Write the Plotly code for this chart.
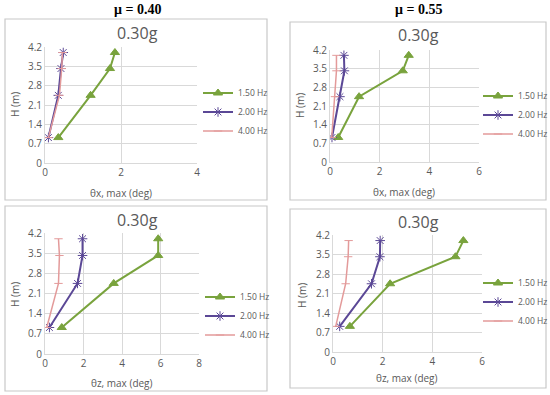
import plotly.graph_objects as go

W, H_PX = 550, 395

heights = [0.92, 2.45, 3.42, 4.0]
freq_labels = ["1.50 Hz", "2.00 Hz", "4.00 Hz"]

# panel 1: mu=0.40, theta_x
p1_150 = [0.35, 1.20, 1.71, 1.84]
p1_200 = [0.09, 0.35, 0.42, 0.48]
p1_400 = [0.09, 0.38, 0.44, 0.46]
# panel 2: mu=0.55, theta_x
p2_150 = [0.33, 1.17, 2.93, 3.17]
p2_200 = [0.08, 0.40, 0.58, 0.56]
p2_400 = [0.07, 0.20, 0.26, 0.26]
# panel 3: mu=0.40, theta_z
p3_150 = [0.87, 3.57, 5.88, 5.88]
p3_200 = [0.23, 1.69, 1.95, 1.95]
p3_400 = [0.09, 0.70, 0.75, 0.70]
# panel 4: mu=0.55, theta_z
p4_150 = [0.68, 2.30, 4.93, 5.25]
p4_200 = [0.27, 1.55, 1.89, 1.90]
p4_400 = [0.11, 0.51, 0.61, 0.63]

x_titles = ["θx, max (deg)", "θx, max (deg)", "θz, max (deg)", "θz, max (deg)"]
x_max = [4, 6, 8, 6]
col_titles = ["μ = 0.40", "μ = 0.55"]
panel_title = "0.30g"
y_ticks = [0, 0.7, 1.4, 2.1, 2.8, 3.5, 4.2]

panels = [
    [p1_150, p1_200, p1_400],
    [p2_150, p2_200, p2_400],
    [p3_150, p3_200, p3_400],
    [p4_150, p4_200, p4_400],
]

# layout geometry (pixels)
plot_px = [  # x0, x1, ytop, ybottom
    (45, 197, 47, 163),
    (330, 479, 50, 162),
    (45, 199, 233, 354),
    (333, 482, 235, 352),
]
box_px = [(5, 19, 267, 200), (290, 22, 546, 200), (5, 206, 267, 391), (290, 209, 546, 388)]
legend_px = [(198, 112), (478, 115), (200, 316), (478, 302)]
title_px = [(137, 33), (418, 35), (137, 220), (418, 222)]
xtitle_px = [(121, 193), (404, 192), (122, 383), (407, 378)]
ytitle_px = [(15, 105), (300, 106), (15, 295), (302, 296)]

colors = ["#79a33d", "#5b4896", "#e39a9a"]
widths = [2, 2, 1.5]
symbols = ["triangle-up", "asterisk-open", "line-ew-open"]
msizes = [8, 8, 6]

gray = "#595959"
grid = "#d9d9d9"
font_fam = "Open Sans"

fig = go.Figure()
shapes = []
annotations = []

def fx(px):
    return px / W

def fy(py):
    return 1 - py / H_PX

for i, series in enumerate(panels):
    xa = "x" if i == 0 else f"x{i+1}"
    ya = "y" if i == 0 else f"y{i+1}"
    lg = "legend" if i == 0 else f"legend{i+1}"
    for j, vals in enumerate(series):
        fig.add_trace(go.Scatter(
            x=vals, y=heights, name=freq_labels[j], mode="lines+markers",
            line=dict(color=colors[j], width=widths[j]),
            marker=dict(symbol=symbols[j], size=msizes[j], color=colors[j],
                        line=dict(color=colors[j], width=1)),
            xaxis=xa, yaxis=ya, legend=lg,
        ))
    x0, x1, yt, yb = plot_px[i]
    axkey = "xaxis" if i == 0 else f"xaxis{i+1}"
    aykey = "yaxis" if i == 0 else f"yaxis{i+1}"
    fig.update_layout(**{
        axkey: dict(domain=[fx(x0), fx(x1)], range=[0, x_max[i]], dtick=2,
                    showgrid=True, gridcolor=grid, gridwidth=1, zeroline=False,
                    showline=True, linecolor=grid, mirror=False,
                    tickfont=dict(size=10, color=gray, family=font_fam),
                    anchor=ya, ticks="", fixedrange=True, automargin=False),
        aykey: dict(domain=[fy(yb), fy(yt)], range=[0, 4.2], tickvals=y_ticks,
                    ticktext=[("%g" % v) for v in y_ticks],
                    showgrid=True, gridcolor=grid, gridwidth=1, zeroline=False,
                    showline=True, linecolor=grid,
                    tickfont=dict(size=10, color=gray, family=font_fam),
                    anchor=xa, ticks="", fixedrange=True, automargin=False),
        lg: dict(x=fx(legend_px[i][0]), y=fy(legend_px[i][1]), xanchor="left", yanchor="middle",
                 xref="container", yref="container",
                 font=dict(size=8.5, color=gray, family=font_fam),
                 bgcolor="rgba(0,0,0,0)", tracegroupgap=0, itemwidth=30),
    })
    bx0, by0, bx1, by1 = box_px[i]
    shapes.append(dict(type="rect", xref="paper", yref="paper",
                       x0=fx(bx0), x1=fx(bx1), y0=fy(by1), y1=fy(by0),
                       line=dict(color="#c8c8c8", width=1.2), layer="below"))
    annotations.append(dict(text=panel_title, x=fx(title_px[i][0]), y=fy(title_px[i][1]),
                            xref="paper", yref="paper", showarrow=False,
                            xanchor="center", yanchor="middle",
                            font=dict(size=16, color=gray, family=font_fam)))
    annotations.append(dict(text=x_titles[i], x=fx(xtitle_px[i][0]), y=fy(xtitle_px[i][1]),
                            xref="paper", yref="paper", showarrow=False,
                            xanchor="center", yanchor="middle",
                            font=dict(size=10, color=gray, family=font_fam)))
    annotations.append(dict(text="H (m)", x=fx(ytitle_px[i][0]), y=fy(ytitle_px[i][1]),
                            xref="paper", yref="paper", showarrow=False, textangle=-90,
                            xanchor="center", yanchor="middle",
                            font=dict(size=10, color=gray, family=font_fam)))

for k, t in enumerate(col_titles):
    annotations.append(dict(text="<b>%s</b>" % t, x=fx([137, 418][k]), y=fy(9),
                            xref="paper", yref="paper", showarrow=False,
                            xanchor="center", yanchor="middle",
                            font=dict(size=14, color="black", family="Liberation Serif")))

fig.update_layout(width=W, height=H_PX, margin=dict(l=0, r=0, t=0, b=0, autoexpand=False),
                  paper_bgcolor="white", plot_bgcolor="white",
                  shapes=shapes, annotations=annotations, showlegend=True)

fig.write_html("out.html", config={"displayModeBar": False},
               post_script="document.body.style.margin='0';")
